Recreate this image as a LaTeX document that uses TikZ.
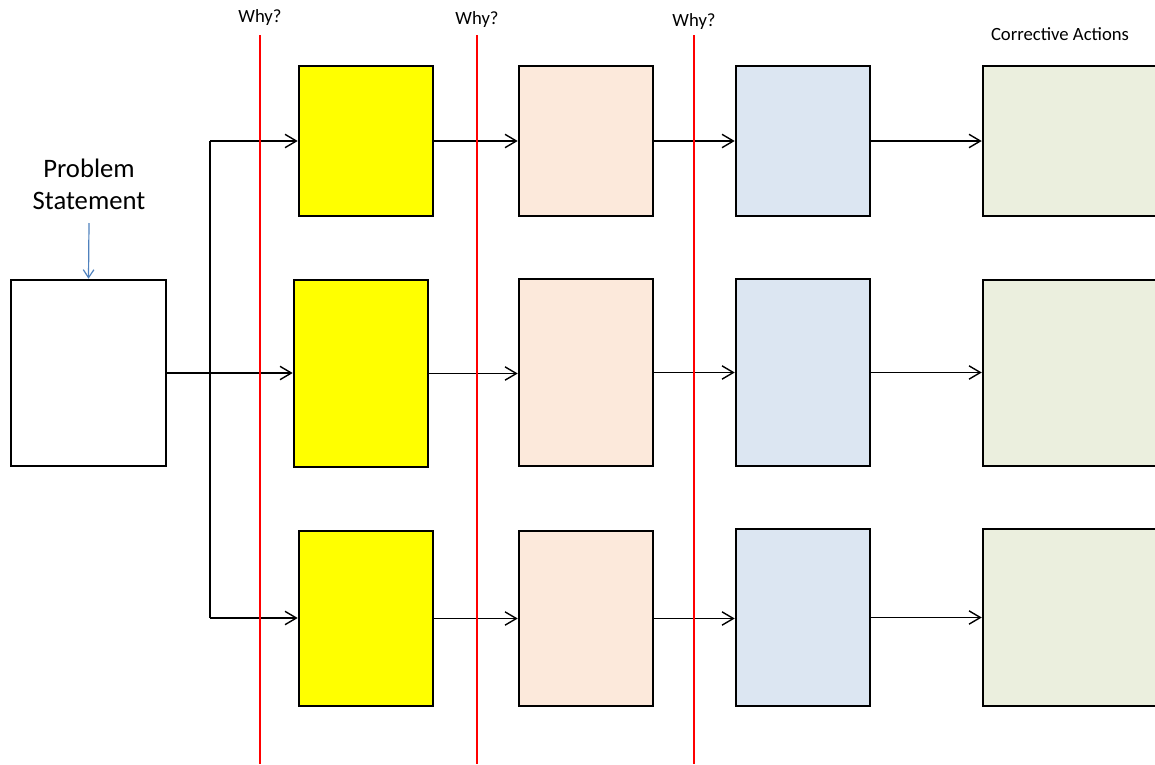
\documentclass[tikz,border=0pt]{standalone}
\usepackage{fontspec}
\setmainfont{Carlito}
\usetikzlibrary{arrows.meta}
\definecolor{brightyellow}{RGB}{255,255,0}
\definecolor{peach}{RGB}{252,233,219}
\definecolor{paleblue}{RGB}{220,230,242}
\definecolor{palegreen}{RGB}{235,239,222}
\definecolor{steel}{RGB}{79,129,189}
\definecolor{pure red}{RGB}{255,0,0}
\begin{document}
\begin{tikzpicture}[x=0.75pt,y=-0.75pt,
  box/.style={draw=black,line width=1.9pt,inner sep=0pt},
  link/.style={draw=black,line width=1.05pt,-{Straight Barb[length=8.5pt,width=10pt,line width=1.05pt]}},
  trunk/.style={draw=black,line width=1.05pt},
  whyline/.style={draw=pure red,line width=1.6pt},
  small/.style={font=\fontsize{14}{16}\selectfont},
  big/.style={font=\fontsize{20}{24}\selectfont,align=center}]
\useasboundingbox (0,0) rectangle (1155,764);
\begin{scope}
\clip (0,0) rectangle (1155,764);

% problem box and its caption
\node[box,fill=white,minimum width=116.25pt,minimum height=139.5pt] (prob) at (88.5,373) {};
\node[big] (ps) at (89,184) {Problem\\Statement};
\coordinate (psarrow) at (89,223);
\draw[draw=steel,line width=0.9pt,-{Straight Barb[length=6pt,width=8pt,line width=0.9pt]}] (psarrow) -- (prob.north);

% first "why" column
\node[box,fill=brightyellow,minimum width=100.5pt,minimum height=112.5pt] (y1) at (366,141) {};
\node[box,fill=brightyellow,minimum width=100.5pt,minimum height=140.25pt] (y2) at (361,373.5) {};
\node[box,fill=brightyellow,minimum width=100.5pt,minimum height=131.25pt] (y3) at (366,618.5) {};

% second column
\node[box,fill=peach,minimum width=100.5pt,minimum height=112.5pt] (p1) at (586,141) {};
\node[box,fill=peach,minimum width=100.5pt,minimum height=140.25pt] (p2) at (586,372.5) {};
\node[box,fill=peach,minimum width=100.5pt,minimum height=131.25pt] (p3) at (586,618.5) {};

% third column
\node[box,fill=paleblue,minimum width=100.5pt,minimum height=112.5pt] (b1) at (803,141) {};
\node[box,fill=paleblue,minimum width=100.5pt,minimum height=140.25pt] (b2) at (803,372.5) {};
\node[box,fill=paleblue,minimum width=100.5pt,minimum height=132.75pt] (b3) at (803,617.5) {};

% corrective actions column (runs off the right edge)
\node[box,fill=palegreen,minimum width=135pt,minimum height=112.5pt] (g1) at (1073,141) {};
\node[box,fill=palegreen,minimum width=135pt,minimum height=139.5pt] (g2) at (1073,373) {};
\node[box,fill=palegreen,minimum width=135pt,minimum height=132.75pt] (g3) at (1073,617.5) {};

% branching trunk
\coordinate (ttop) at (210,141);
\coordinate (tmid) at (210,373);
\coordinate (tbot) at (210,618);
\draw[trunk] (prob.east) -- (tmid);
\draw[trunk] (ttop) -- (tbot);
\draw[link] (ttop) -- (ttop -| y1.west);
\draw[link] (tmid) -- (tmid -| y2.west);
\draw[link] (tbot) -- (tbot -| y3.west);

% chains along each row
\foreach \r in {1,2,3}{
  \draw[link] (y\r.east) -- (y\r.east -| p\r.west);
  \draw[link] (p\r.east) -- (p\r.east -| b\r.west);
  \draw[link] (b\r.east) -- (b\r.east -| g\r.west);
}

% red "why" dividers
\node[small] (w1) at (260,18) {Why?};
\node[small] (w2) at (477,20) {Why?};
\node[small] (w3) at (694,22) {Why?};
\coordinate (r1top) at (260,35); \coordinate (r1bot) at (260,764);
\coordinate (r2top) at (477,35); \coordinate (r2bot) at (477,764);
\coordinate (r3top) at (694,35); \coordinate (r3bot) at (694,764);
\draw[whyline] (r1top) -- (r1bot);
\draw[whyline] (r2top) -- (r2bot);
\draw[whyline] (r3top) -- (r3bot);

\node[small] (ca) at (1060,34) {Corrective Actions};
\end{scope}
\end{tikzpicture}
\end{document}
